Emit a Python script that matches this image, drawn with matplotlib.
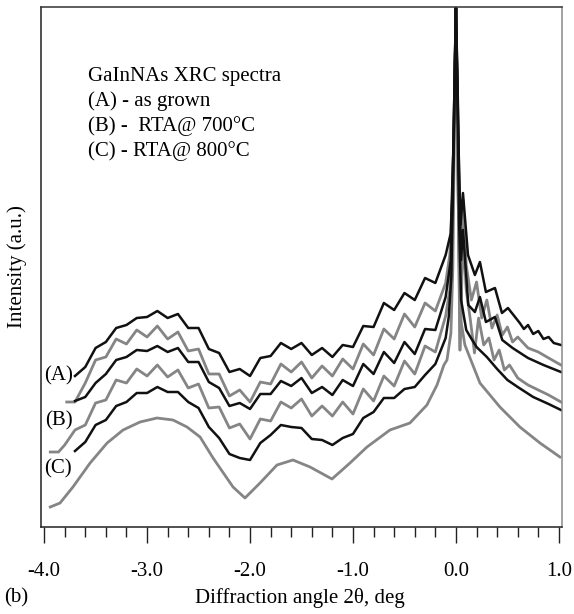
import matplotlib
matplotlib.use("Agg")
import matplotlib.pyplot as plt
from matplotlib.ticker import MultipleLocator

plt.rcParams['font.family'] = ['Liberation Serif', 'DejaVu Serif']

# common angle grid on the fringe region (deg)
x_fringe = [-3.7, -3.6, -3.5, -3.4, -3.3, -3.2, -3.1, -3.0, -2.9, -2.8,
            -2.7, -2.6, -2.5, -2.4, -2.3, -2.2, -2.1, -2.0, -1.9, -1.8,
            -1.7, -1.6, -1.5, -1.4, -1.3, -1.2, -1.1, -1.0, -0.9, -0.8,
            -0.7, -0.6, -0.5, -0.4, -0.3, -0.2, -0.1]

# (A) measured / simulated
a_meas_y = [151, 160, 179, 185, 199, 202, 209, 210, 216, 209,
            213, 199, 199, 178, 174, 155, 158, 151, 169, 171,
            184, 178, 184, 172, 179, 170, 182, 180, 201, 200,
            224, 217, 234, 227, 249, 244, 272]
a_meas_x2 = [-0.05, -0.025, -0.01, 0.0, 0.015, 0.03, 0.045, 0.068, 0.117, 0.184,
             0.233, 0.291, 0.379, 0.447, 0.505, 0.62, 0.66, 0.7, 0.75, 0.8,
             0.85, 0.9, 0.95, 1.02]
a_meas_y2 = [294, 377, 467, 519, 447, 357, 302, 334, 272, 252,
             265, 235, 239, 214, 219, 204, 198, 202, 193, 196,
             188, 190, 184, 182]

a_sim_y = [125, 144, 167, 170, 188, 183, 197, 190, 201, 188,
           195, 176, 178, 153, 153, 131, 137, 125, 145, 143,
           163, 155, 165, 149, 161, 151, 168, 158, 183, 172,
           198, 188, 213, 200, 224, 216, 244]
a_sim_x2 = [-0.06, -0.035, -0.015, 0.0, 0.015, 0.038, 0.068, 0.1, 0.15, 0.2,
            0.25, 0.3, 0.35, 0.4, 0.45, 0.5, 0.55, 0.6, 0.7, 0.8, 0.9, 1.02]
a_sim_y2 = [272, 327, 427, 519, 407, 177, 327, 262, 227, 245,
            209, 227, 199, 212, 192, 200, 185, 190, 179, 175, 169, 162]

# (B) measured / simulated
b_meas_y = [126, 130, 144, 153, 167, 170, 177, 176, 181, 175,
            179, 165, 165, 145, 139, 121, 124, 118, 133, 133,
            146, 141, 149, 134, 140, 132, 147, 141, 163, 153,
            175, 164, 185, 173, 198, 197, 230]
b_meas_x2 = [-0.05, -0.025, -0.01, 0.0, 0.015, 0.035, 0.05, 0.068, 0.12, 0.184,
             0.233, 0.291, 0.379, 0.45, 0.55, 0.7, 0.85, 1.02]
b_meas_y2 = [267, 377, 467, 519, 437, 327, 267, 297, 222, 215,
             230, 205, 210, 187, 179, 169, 162, 155]

b_sim_x0 = [-3.94, -3.86, -3.8]
b_sim_y0 = [75, 75, 82]
b_sim_y = [97, 102, 124, 127, 147, 144, 158, 151, 162, 150,
           157, 139, 143, 119, 120, 99, 103, 88, 108, 106,
           125, 119, 128, 111, 121, 111, 125, 113, 138, 126,
           151, 141, 166, 153, 181, 175, 211]
b_sim_x2 = [-0.06, -0.035, -0.015, 0.0, 0.015, 0.04, 0.068, 0.1, 0.14, 0.18,
            0.22, 0.27, 0.32, 0.37, 0.42, 0.47, 0.52, 0.6, 0.7, 0.8, 0.9, 1.02]
b_sim_y2 = [237, 297, 407, 519, 397, 177, 292, 237, 207, 174,
            209, 182, 189, 167, 177, 157, 162, 149, 142, 137, 132, 125]

# (C) measured / simulated
c_meas_y = [76, 85, 102, 107, 121, 125, 134, 134, 140, 135,
            135, 125, 119, 100, 89, 73, 69, 67, 84, 92,
            102, 100, 99, 88, 87, 82, 89, 93, 109, 115,
            129, 129, 138, 140, 152, 163, 189]
c_meas_x2 = [-0.07, -0.045, -0.025, -0.01, 0.0, 0.015, 0.03, 0.05, 0.1, 0.14,
             0.2, 0.3, 0.4, 0.5, 0.6, 0.75, 0.9, 1.02]
c_meas_y2 = [210, 250, 357, 457, 519, 427, 307, 227, 197, 190,
             180, 170, 158, 147, 140, 130, 123, 117]

c_sim_x = [-3.94, -3.845, -3.72, -3.553, -3.388, -3.233, -3.068, -2.903, -2.748, -2.612,
           -2.485, -2.359, -2.165, -2.049, -1.903, -1.738, -1.583, -1.417, -1.204, -1.029,
           -0.864, -0.641, -0.447, -0.282, -0.184, -0.117, -0.087, -0.049, -0.03, -0.015,
           0.0, 0.015, 0.03, 0.05, 0.087, 0.233, 0.427, 0.621, 0.816, 1.01]
c_sim_y = [20, 24, 40, 64, 84, 97, 105, 109, 107, 100,
           90, 69, 40, 29, 44, 62, 67, 60, 48, 64,
           80, 97, 104, 122, 142, 162, 167, 194, 260, 400,
           519, 380, 270, 205, 182, 144, 120, 100, 84, 70]

black = '#111111'
gray = '#858585'

fig = plt.figure(figsize=(5.74, 6.14), dpi=100)
ax = fig.add_axes([41 / 574, 1 - 527 / 614, 521 / 574, 520 / 614])

ax.plot(c_sim_x, c_sim_y, color=gray, lw=2.0)
ax.plot(b_sim_x0 + x_fringe + b_sim_x2, b_sim_y0 + b_sim_y + b_sim_y2, color=gray, lw=2.0)
ax.plot([-3.78] + x_fringe + a_sim_x2, [125] + a_sim_y + a_sim_y2, color=gray, lw=2.0)
ax.plot(x_fringe + c_meas_x2, c_meas_y + c_meas_y2, color=black, lw=1.8)
ax.plot(x_fringe + b_meas_x2, b_meas_y + b_meas_y2, color=black, lw=1.8)
ax.plot(x_fringe + a_meas_x2, a_meas_y + a_meas_y2, color=black, lw=1.8)

ax.set_xlim(-4.03, 1.03)
ax.set_ylim(0, 520)
ax.xaxis.set_minor_locator(MultipleLocator(0.2))
ax.set_xticks([-4.0, -3.0, -2.0, -1.0, 0.0, 1.0])
ax.set_xticklabels(['-4.0', '-3.0', '-2.0', '-1.0', '0.0', '1.0'], fontsize=15)
ax.tick_params(axis='x', which='major', direction='out', length=11.5, width=1, pad=14, color='#222222')
ax.tick_params(axis='x', which='minor', direction='out', length=7, width=1, color='#222222')
ax.set_yticks([])

for side in ['left', 'bottom']:
    ax.spines[side].set_color('#222222')
ax.spines['top'].set_color('#333333')
ax.spines['right'].set_color('#8a8a8a')
for s in ax.spines.values():
    s.set_linewidth(1.1)

fs = 15
def px(x, y, s, **kw):
    fig.text(x / 574, 1 - y / 614, s, fontsize=fs, va='center', **kw)

px(88, 77, 'GaInNAs XRC spectra')
px(88, 101.5, '(A) - as grown')
px(88, 126.5, '(B) -  RTA@ 700°C')
px(88, 151.5, '(C) - RTA@ 800°C')
px(44, 376, '(A)')
px(45, 421, '(B)')
px(44, 469, '(C)')
px(4, 598, '(b)')
px(300, 598, 'Diffraction angle 2θ, deg', ha='center')
fig.text(17 / 574, 1 - 267 / 614, 'Intensity (a.u.)', fontsize=fs, rotation=90,
         va='center', ha='center')

fig.savefig('out.png', dpi=100)
